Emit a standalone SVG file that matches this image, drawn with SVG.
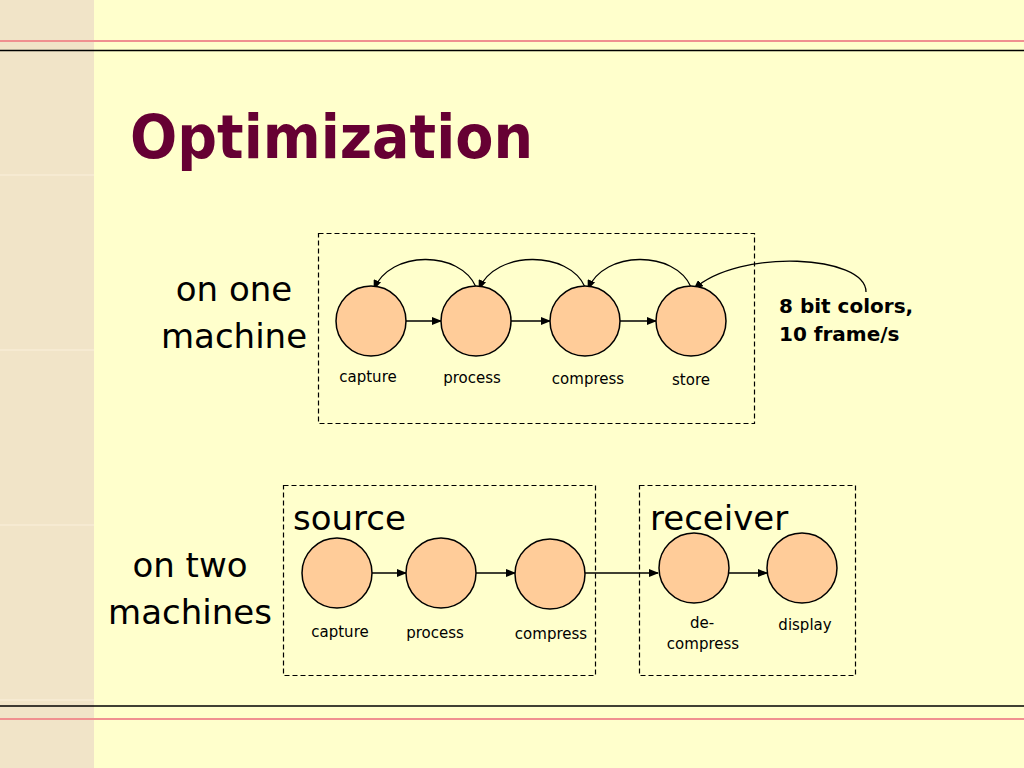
<svg xmlns="http://www.w3.org/2000/svg" width="1024" height="768" viewBox="0 0 1024 768">
<defs>
<marker id="ah" markerWidth="10" markerHeight="8" refX="9" refY="4" orient="auto" markerUnits="userSpaceOnUse">
<path d="M0,0 L10,4 L0,8 Z" fill="#000"/>
</marker>
<style>
.bg{fill:#FFFFCC}
.strip{fill:#F1E4C8}
.seam{stroke:#F7EDD6;stroke-width:1.5}
.box{fill:none;stroke:#000;stroke-width:1.2;stroke-dasharray:5,3}
.node{fill:#FFCC99;stroke:#000;stroke-width:1.5}
.con{fill:none;stroke:#000;stroke-width:1.3;marker-end:url(#ah)}
.lbl{font-family:"DejaVu Sans","Liberation Sans",sans-serif;font-size:15px;fill:#000;text-anchor:middle}
.big{font-family:"DejaVu Sans","Liberation Sans",sans-serif;font-size:34px;fill:#000;text-anchor:middle}
.head{font-family:"DejaVu Sans","Liberation Sans",sans-serif;font-size:34px;fill:#000}
.note{font-family:"DejaVu Sans","Liberation Sans",sans-serif;font-size:20px;font-weight:bold;fill:#000}
.title{font-family:"DejaVu Sans","Liberation Sans",sans-serif;font-size:60px;font-weight:bold;fill:#660033}
</style>
</defs>
<rect class="bg" x="0" y="0" width="1024" height="768"/>
<rect class="strip" x="0" y="0" width="94" height="768"/>
<line class="seam" x1="0" y1="175" x2="94" y2="175"/>
<line class="seam" x1="0" y1="350" x2="94" y2="350"/>
<line class="seam" x1="0" y1="525" x2="94" y2="525"/>
<line class="seam" x1="0" y1="700" x2="94" y2="700"/>
<line x1="0" y1="41" x2="1024" y2="41" stroke="#F09090" stroke-width="2"/>
<line x1="0" y1="50.5" x2="1024" y2="50.5" stroke="#000" stroke-width="1.5"/>
<line x1="0" y1="706" x2="1024" y2="706" stroke="#000" stroke-width="1.5"/>
<line x1="0" y1="719" x2="1024" y2="719" stroke="#F09090" stroke-width="2"/>

<text class="title" x="130" y="158" textLength="403" lengthAdjust="spacingAndGlyphs">Optimization</text>

<g id="label-one">
<text class="big" x="234" y="301">on one</text>
<text class="big" x="234" y="348">machine</text>
</g>
<g id="label-two">
<text class="big" x="190" y="577">on two</text>
<text class="big" x="190" y="624">machines</text>
</g>

<g id="box-one"><rect class="box" x="318.5" y="233.5" width="436" height="190"/></g>
<g id="box-source"><rect class="box" x="283.5" y="485.5" width="312" height="190"/>
<text class="head" x="293" y="530">source</text></g>
<g id="box-receiver"><rect class="box" x="639.5" y="485.5" width="216" height="190"/>
<text class="head" x="650" y="530">receiver</text></g>

<g id="connectors">
<line class="con" x1="406" y1="321" x2="441" y2="321"/>
<line class="con" x1="511" y1="321" x2="550" y2="321"/>
<line class="con" x1="620" y1="321" x2="656" y2="321"/>
<path class="con" d="M476,287 C460,250 390,250 374,289"/>
<path class="con" d="M585,287 C569,250 495,250 479,289"/>
<path class="con" d="M691,287 C675,250 604,250 588,289"/>
<path class="con" d="M866,292 C866,255 740,248 694,289"/>
<line class="con" x1="372" y1="573" x2="406" y2="573"/>
<line class="con" x1="476" y1="573" x2="515" y2="573"/>
<line class="con" x1="585" y1="573" x2="658" y2="573"/>
<line class="con" x1="729" y1="573" x2="767" y2="573"/>
</g>

<g id="n-capture1"><circle class="node" cx="371" cy="321" r="35"/><text class="lbl" x="368" y="382">capture</text></g>
<g id="n-process1"><circle class="node" cx="476" cy="321" r="35"/><text class="lbl" x="472" y="383">process</text></g>
<g id="n-compress1"><circle class="node" cx="585" cy="321" r="35"/><text class="lbl" x="588" y="384">compress</text></g>
<g id="n-store1"><circle class="node" cx="691" cy="321" r="35"/><text class="lbl" x="691" y="385">store</text></g>

<g id="note"><text class="note" x="779" y="313">8 bit colors,</text><text class="note" x="779" y="341">10 frame/s</text></g>

<g id="n-capture2"><circle class="node" cx="337" cy="573" r="35"/><text class="lbl" x="340" y="637">capture</text></g>
<g id="n-process2"><circle class="node" cx="441" cy="573" r="35"/><text class="lbl" x="435" y="638">process</text></g>
<g id="n-compress2"><circle class="node" cx="550" cy="574" r="35"/><text class="lbl" x="551" y="639">compress</text></g>
<g id="n-decompress"><circle class="node" cx="694" cy="568" r="35"/><text class="lbl" x="702" y="628">de-</text><text class="lbl" x="703" y="649">compress</text></g>
<g id="n-display"><circle class="node" cx="802" cy="568" r="35"/><text class="lbl" x="805" y="630">display</text></g>
</svg>
